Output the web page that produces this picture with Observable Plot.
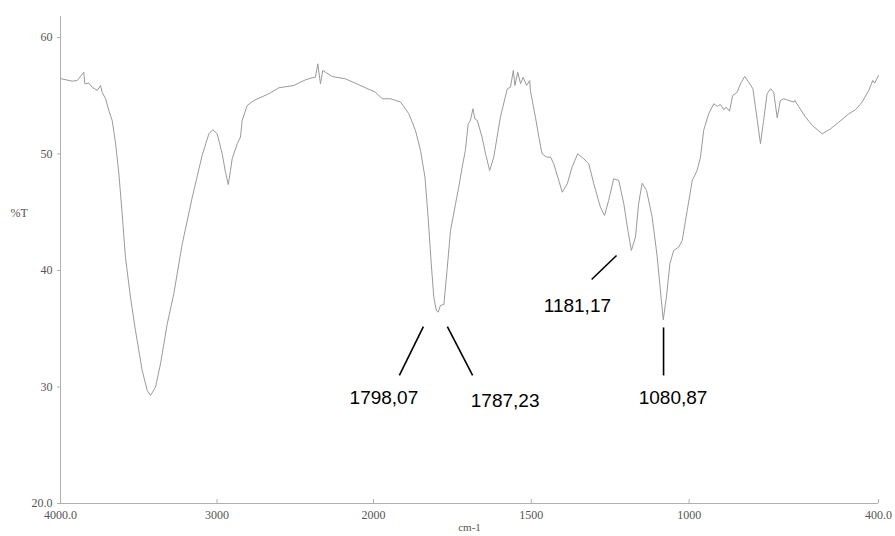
<!DOCTYPE html>
<html><head><meta charset="utf-8">
<script src="https://cdn.jsdelivr.net/npm/d3@7"></script>
<script src="https://cdn.jsdelivr.net/npm/@observablehq/plot@0.6"></script>
<style>body{margin:0;background:#fff} svg{display:block}</style>
</head><body><div id="chart"></div>
<script>
const wavenumber = [3994,3925,3893,3851,3845,3819,3797,3765,3744,3734,3712,3691,3670,3649,3627,3606,3585,3553,3521,3478,3446,3425,3393,3361,3318,3276,3222,3158,3095,3052,3027,2999,2967,2946,2928,2914,2903,2871,2850,2839,2807,2765,2669,2605,2509,2434,2392,2371,2356,2339,2324,2307,2264,2179,2051,1994,1972,1946,1914,1888,1867,1851,1837,1827,1817,1809,1801,1795,1788,1777,1767,1756,1740,1730,1719,1709,1700,1693,1685,1679,1671,1656,1645,1632,1619,1598,1576,1566,1557,1552,1543,1534,1526,1515,1505,1503,1487,1476,1466,1452,1439,1429,1416,1402,1386,1371,1353,1334,1318,1302,1281,1268,1255,1239,1223,1207,1194,1183,1170,1160,1149,1135,1117,1101,1089,1082,1072,1061,1049,1033,1022,1006,990,975,964,954,938,922,911,901,890,883,872,862,848,837,824,811,798,784,774,764,753,742,732,721,711,700,684,668,665,653,631,610,578,552,526,494,473,452,431,418,412,400];
const transmittance = [56.45,56.25,56.31,57.02,56.03,56.08,55.73,55.45,55.88,55.30,54.74,53.73,52.88,51.01,48.30,44.87,41.14,37.71,34.85,31.42,29.70,29.27,29.98,31.99,35.42,38.00,42.29,46.29,49.87,51.73,52.08,51.73,50.02,48.44,47.38,48.58,49.59,50.88,51.44,52.88,54.16,54.59,55.17,55.68,55.88,56.37,56.54,56.59,57.74,56.03,57.17,57.02,56.65,56.45,55.68,55.30,54.74,54.74,54.45,53.45,52.02,50.30,48.01,44.58,40.57,37.71,36.57,36.42,37.00,37.08,40.00,43.43,45.73,47.15,48.87,50.30,52.59,52.88,53.88,53.02,52.88,51.44,50.02,48.58,49.73,53.16,55.60,55.73,57.17,55.88,57.02,56.03,56.59,55.88,56.31,55.45,53.16,51.44,50.02,49.73,49.73,49.16,48.01,46.72,47.44,48.87,50.02,49.59,49.16,47.44,45.43,44.72,46.01,47.87,47.73,45.73,43.43,41.72,42.86,45.73,47.49,46.87,44.58,41.14,37.71,35.77,37.71,40.57,41.72,42.00,42.58,45.15,47.73,48.58,49.73,52.02,53.45,54.31,54.08,54.25,53.79,54.02,53.67,55.02,55.30,56.03,56.65,56.16,55.60,52.88,50.88,52.88,55.17,55.60,55.30,53.11,54.59,54.74,54.59,54.45,54.59,54.08,53.16,52.45,51.73,52.16,52.73,53.45,53.79,54.45,55.45,56.31,56.08,56.74];

const xTicks = [4000, 3000, 2000, 1500, 1000, 400];
const yTicks = [20, 30, 40, 50, 60];

const peakLabels = ["1798,07", "1787,23", "1181,17", "1080,87"];
const labelX = [1967, 1583, 1354, 1051];
const labelY = [29.1, 28.8, 37.0, 29.1];
const leaderX1 = [1918, 1686, 1309, 1081];
const leaderY1 = [30.99, 30.99, 39.23, 30.99];
const leaderX2 = [1842, 1766, 1230, 1081];
const leaderY2 = [35.19, 35.19, 41.29, 35.11];

const spectrum = wavenumber.map((w, i) => ({w, t: transmittance[i]}));
const labels = peakLabels.map((text, i) => ({text, x: labelX[i], y: labelY[i]}));
const leaders = peakLabels.map((text, i) => ({x1: leaderX1[i], y1: leaderY1[i], x2: leaderX2[i], y2: leaderY2[i]}));

const serif = "'Liberation Serif', 'DejaVu Serif', serif";
const sans = "'Liberation Sans', Arial, sans-serif";

const chart = Plot.plot({
  width: 895,
  height: 536,
  marginLeft: 60,
  marginRight: 17,
  marginTop: 16,
  marginBottom: 33,
  style: {background: "#fff", fontFamily: serif},
  x: {type: "linear", domain: [4000, 2000, 400], range: [60, 373, 878]},
  y: {domain: [20, 61.8]},
  marks: [
    Plot.ruleX([4000], {stroke: "#b0b0b0", strokeWidth: 1}),
    Plot.ruleY([20], {stroke: "#b0b0b0", strokeWidth: 1}),
    Plot.axisY({ticks: yTicks, tickSize: 3, tickPadding: 5, stroke: "#b0b0b0", fill: "#555", fontSize: 12,
      tickFormat: d => d === 20 ? "20.0" : String(d), label: null}),
    Plot.axisX({ticks: xTicks, tickSize: 4, dy: -4, stroke: "#b0b0b0", tickFormat: () => "", label: null}),
    Plot.axisX({ticks: xTicks, tickSize: 0, tickPadding: 7, fill: "#555", fontSize: 12,
      tickFormat: d => d === 4000 ? "4000.0" : d === 400 ? "400.0" : String(d), label: null}),
    Plot.line(spectrum, {x: "w", y: "t", stroke: "#9a9a9a", strokeWidth: 1}),
    Plot.link(leaders, {x1: "x1", y1: "y1", x2: "x2", y2: "y2", stroke: "#000", strokeWidth: 1.6}),
    Plot.text(labels, {x: "x", y: "y", text: "text", fontFamily: sans, fontSize: 19, fill: "#000", textAnchor: "middle", lineAnchor: "middle"}),
    Plot.text(["%T"], {y: [44.9], frameAnchor: "left", dx: -50, textAnchor: "start", fill: "#555", fontSize: 12}),
    Plot.text(["cm-1"], {frameAnchor: "bottom", dy: 27, fill: "#555", fontSize: 11})
  ]
});
document.getElementById("chart").appendChild(chart);
</script>
</body></html>
